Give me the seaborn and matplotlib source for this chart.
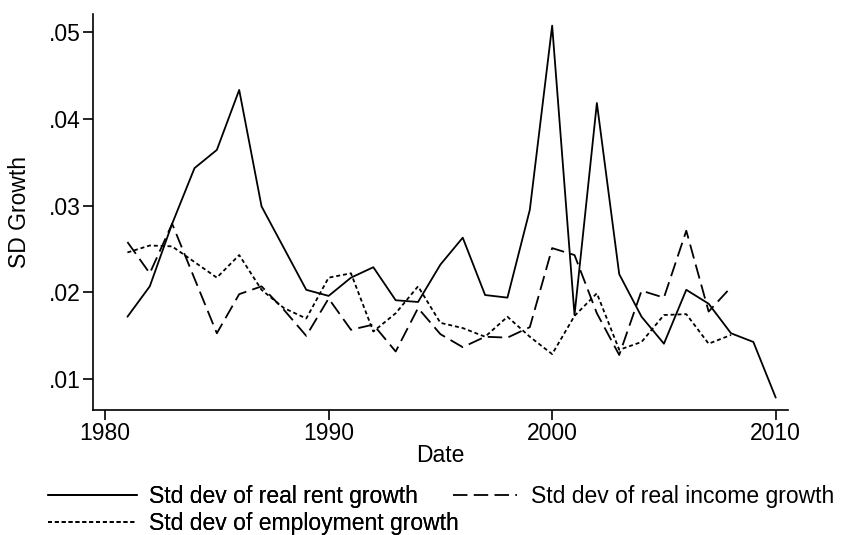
import matplotlib
matplotlib.use("Agg")
import matplotlib.pyplot as plt
import seaborn as sns
import pandas as pd

years_rent = list(range(1981, 2011))
rent = [0.0172, 0.0207, 0.0279, 0.0343, 0.0364, 0.0433, 0.0299, 0.0251, 0.0203, 0.0196,
        0.0217, 0.0229, 0.0191, 0.0189, 0.0232, 0.0263, 0.0197, 0.0194, 0.0295, 0.0507,
        0.0174, 0.0418, 0.0221, 0.0172, 0.0141, 0.0203, 0.0187, 0.0153, 0.0143, 0.0079]

years_other = list(range(1981, 2009))
income = [0.0258, 0.0222, 0.0279, 0.0216, 0.0153, 0.0198, 0.0207, 0.0180, 0.0150, 0.0193,
          0.0157, 0.0163, 0.0132, 0.0182, 0.0152, 0.0137, 0.0149, 0.0148, 0.0160, 0.0251,
          0.0243, 0.0176, 0.0128, 0.0202, 0.0194, 0.0271, 0.0178, 0.0206]
employment = [0.0246, 0.0254, 0.0253, 0.0235, 0.0217, 0.0243, 0.0203, 0.0182, 0.0170, 0.0217,
              0.0222, 0.0155, 0.0176, 0.0207, 0.0165, 0.0159, 0.0149, 0.0172, 0.0149, 0.0129,
              0.0173, 0.0199, 0.0134, 0.0143, 0.0174, 0.0175, 0.0141, 0.0151]

labels = ["Std dev of real rent growth", "Std dev of real income growth",
          "Std dev of employment growth"]

df = pd.concat([
    pd.DataFrame({"Date": years_rent, "SD": rent, "series": labels[0]}),
    pd.DataFrame({"Date": years_other, "SD": income, "series": labels[1]}),
    pd.DataFrame({"Date": years_other, "SD": employment, "series": labels[2]}),
])

sns.set_style("white")
plt.rcParams["font.family"] = ["Liberation Sans", "DejaVu Sans"]
plt.rcParams["text.color"] = "black"
plt.rcParams["axes.labelcolor"] = "black"
plt.rcParams["xtick.color"] = "black"
plt.rcParams["ytick.color"] = "black"

fs = 16.5
fig = plt.figure(figsize=(8.44, 5.35), dpi=100)
ax = fig.add_axes([93 / 844, 1 - 410 / 535, (788 - 93) / 844, (410 - 14) / 535])

dashes = {labels[0]: "", labels[1]: (8, 3.5), labels[2]: (2.2, 1.6)}
sns.lineplot(data=df, x="Date", y="SD", style="series", dashes=dashes,
             color="black", linewidth=1.3, ax=ax, legend=False)

ax.set_xlim(1979.46, 2010.55)
ax.set_ylim(0.00647, 0.05204)
ax.set_xticks([1980, 1990, 2000, 2010])
ax.set_yticks([0.01, 0.02, 0.03, 0.04, 0.05])
ax.set_yticklabels([".01", ".02", ".03", ".04", ".05"])
ax.tick_params(axis="both", labelsize=fs, length=7, width=1.2, direction="out",
               bottom=True, left=True, color="black", labelcolor="black", pad=2)
for s in ["top", "right"]:
    ax.spines[s].set_visible(False)
for s in ["left", "bottom"]:
    ax.spines[s].set_color("black")
    ax.spines[s].set_linewidth(1.2)
ax.set_xlabel("Date", fontsize=fs, labelpad=-1, color="black")
ax.set_ylabel("SD Growth", fontsize=fs, labelpad=13, color="black")

lines = ax.get_lines()
leg1 = fig.legend([lines[0], lines[2]], [labels[0], labels[2]],
                  loc="upper left", bbox_to_anchor=(48 / 844, 1 - 485 / 535), frameon=False,
                  fontsize=fs, handlelength=3.9, handletextpad=0.5, labelcolor="black",
                  labelspacing=0.18, borderaxespad=0.0, borderpad=0.0)
fig.add_artist(leg1)
fig.legend([lines[1]], [labels[1]],
           loc="upper left", bbox_to_anchor=(453 / 844, 1 - 485 / 535), frameon=False,
           fontsize=fs, handlelength=2.8, handletextpad=0.6, labelcolor="black",
           borderaxespad=0.0, borderpad=0.0)

fig.savefig("out.png", dpi=100, facecolor="white")
